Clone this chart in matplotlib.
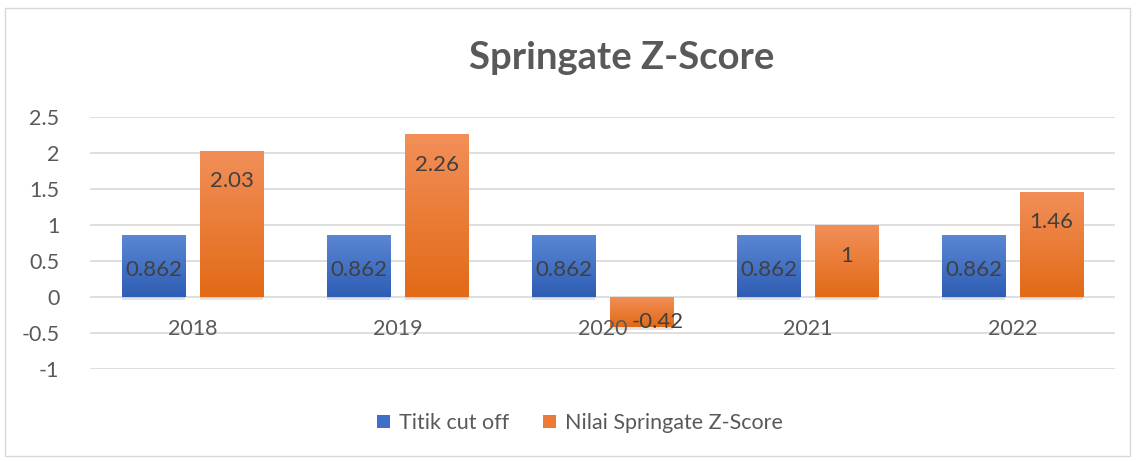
from matplotlib import pyplot as plt
from matplotlib.patches import Rectangle, Patch
from matplotlib.colors import LinearSegmentedColormap
import matplotlib.patheffects as pe
import numpy as np

years = ['2018', '2019', '2020', '2021', '2022']
cut_off = [0.862, 0.862, 0.862, 0.862, 0.862]
z_score = [2.03, 2.26, -0.42, 1, 1.46]
yticks = [-1, -0.5, 0, 0.5, 1, 1.5, 2, 2.5]

plt.rcParams['font.family'] = ['Lato', 'DejaVu Sans']

def gradient_bars(ax, bars, top_col, bot_col):
    cmap = LinearSegmentedColormap.from_list('g', [bot_col, top_col])
    grad = np.linspace(0, 1, 100).reshape(-1, 1)
    for b in bars:
        x0, y0 = b.get_x(), b.get_y()
        w, h = b.get_width(), b.get_height()
        lo, hi = min(y0, y0 + h), max(y0, y0 + h)
        im = ax.imshow(grad, cmap=cmap, origin='lower', aspect='auto',
                       extent=[x0, x0 + w, lo, hi], zorder=3)
        im.set_clip_path(b)
        b.set_path_effects([pe.SimplePatchShadow(offset=(0, -2), shadow_rgbFace='#909090', alpha=0.25),
                            pe.Normal()])

def main():
    fig = plt.figure(figsize=(11.37, 4.61), dpi=100)
    fig.patches.append(Rectangle((0.004, 0.011), 0.990, 0.972, transform=fig.transFigure,
                                 fill=False, edgecolor='#D9D9D9', linewidth=1))
    ax = fig.add_axes([0.0792, 0.1996, 0.9015, 0.5466])

    x = np.arange(len(years))
    w = 0.31
    b1 = ax.bar(x - 0.19, cut_off, w, color='#4472C4', zorder=2)
    b2 = ax.bar(x + 0.19, z_score, w, color='#ED7D31', zorder=2)
    gradient_bars(ax, b1, '#5B87D3', '#2E5DB5')
    gradient_bars(ax, b2, '#F28F58', '#E26A17')

    for xi, v in zip(x, cut_off):
        ax.text(xi - 0.19, v / 2 - 0.05, str(v), ha='center', va='center',
                fontsize=16, color='#404040', zorder=5)
    for xi, v in zip(x, z_score):
        # negative bar is too short, excel pushes the label right/down
        off = (0, -22) if v > 0 else (12, 4)
        ax.annotate(f'{v:g}', (xi + 0.19, v), xytext=off, textcoords='offset points',
                    ha='center', va='center', fontsize=16, color='#404040', zorder=5)
    for xi, yr in zip(x, years):
        ax.annotate(yr, (xi, 0), xytext=(0, -23), textcoords='offset points',
                    ha='center', va='center', fontsize=15.5, color='#595959', zorder=4)

    ax.set_xlim(-0.5, len(years) - 0.5)
    ax.set_ylim(-1, 2.5)
    ax.set_yticks(yticks)
    ax.set_yticklabels([f'{t:g}' for t in yticks])
    ax.set_xticks([])
    ax.tick_params(axis='y', length=0, pad=22, labelsize=15.5, labelcolor='#595959')
    ax.grid(axis='y', color='#D9D9D9', linewidth=1.2, zorder=0)
    ax.set_axisbelow(True)
    for s in ax.spines.values():
        s.set_visible(False)

    fig.text(0.547, 0.875, 'Springate Z-Score', ha='center', va='center',
             fontsize=27.5, fontweight='bold', color='#595959')

    handles = [Patch(facecolor='#3F6FC6', label='Titik cut off'),
               Patch(facecolor='#EF7A35', label='Nilai Springate Z-Score')]
    fig.legend(handles=handles, loc='center', bbox_to_anchor=(0.51, 0.082), ncol=2,
               frameon=False, fontsize=15.5, handlelength=0.6, handleheight=0.6,
               handletextpad=0.4, columnspacing=1.6, labelcolor='#595959')

    fig.savefig('out.png', dpi=100)

if __name__ == "__main__":
    main()
